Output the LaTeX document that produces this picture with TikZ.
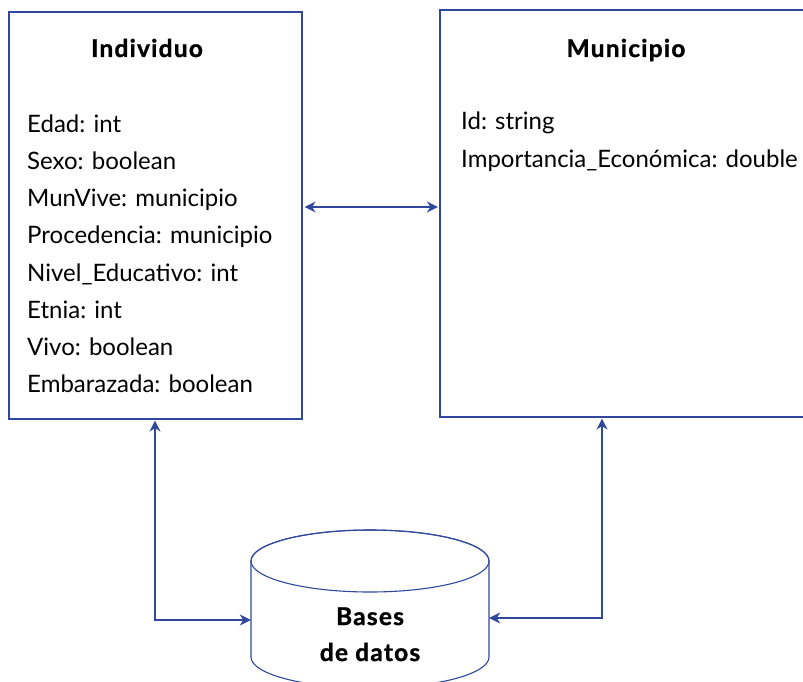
\documentclass[tikz,border=0pt]{standalone}
\usepackage{fontspec}
\setmainfont{Lato}[BoldFeatures={FakeBold=1.2,LetterSpace=5}]
\usetikzlibrary{arrows.meta,calc}
\definecolor{lblue}{RGB}{47,72,158}
\begin{document}
\begin{tikzpicture}[x=1pt,y=-1pt,
  box/.style={draw=lblue,line width=1.1pt,rectangle,inner sep=0pt},
  conn/.style={draw=lblue,line width=1.1pt,{Stealth[length=11pt,width=11pt,inset=3.5pt]}-{Stealth[length=11pt,width=11pt,inset=3.5pt]}},
  txt/.style={font=\fontsize{24}{28}\selectfont,inner sep=0pt,anchor=base west},
  ttl/.style={font=\fontsize{24.5}{28}\selectfont\bfseries,inner sep=0pt,anchor=base}]
\useasboundingbox (0,0) rectangle (803,682);
\clip (0,0) rectangle (803,682);
% boxes
\node[box,minimum width=293pt,minimum height=407pt] (ind) at (155.5,215.5) {};
\node[box,minimum width=372pt,minimum height=407pt] (mun) at (626,213.5) {};
% titles
\node[ttl] (indt) at (147,57) {Individuo};
\node[ttl] (munt) at (626,57) {Municipio};
% attributes Individuo
\node[txt] (i1) at (27,132.3) {Edad: int};
\node[txt] (i2) at (27,169.5) {Sexo: boolean};
\node[txt] (i3) at (27,206.7) {MunVive: municipio};
\node[txt] (i4) at (27,243.9) {Procedencia: municipio};
\node[txt] (i5) at (27,281.1) {Nivel\_Educativo: int};
\node[txt] (i6) at (27,318.3) {Etnia: int};
\node[txt] (i7) at (27,355.5) {Vivo: boolean};
\node[txt] (i8) at (27,392.7) {Embarazada: boolean};
% attributes Municipio
\node[txt] (m1) at (461,130) {Id: string};
\node[txt] (m2) at (461,167.5) {Importancia\_Económica: double};
% database cylinder
\draw[draw=lblue,line width=1.1pt,fill=white]
  (251,561) -- (251,657) arc[start angle=180,end angle=360,x radius=119pt,y radius=31pt]
  -- (489,561) arc[start angle=0,end angle=180,x radius=119pt,y radius=31pt] -- cycle;
\draw[draw=lblue,line width=1.1pt] (370,561) ellipse[x radius=119pt,y radius=31pt];
\node[minimum width=238pt,minimum height=60pt,inner sep=0pt] (db) at (370,632) {};
\node[ttl] (dbt1) at (370,625) {Bases};
\node[ttl] (dbt2) at (370,661) {de datos};
% connectors
\coordinate (my) at (0,207);
\coordinate (lx) at (155,620);
\coordinate (rx) at (602,618);
\draw[conn,shorten <=2pt,shorten >=1.5pt] (ind.east |- my) -- (mun.west |- my);
\draw[conn,shorten <=1pt] (ind.south -| lx) |- (db.west |- lx);
\draw[conn,shorten <=1pt] (mun.south -| rx) |- (db.east |- rx);
\end{tikzpicture}
\end{document}
